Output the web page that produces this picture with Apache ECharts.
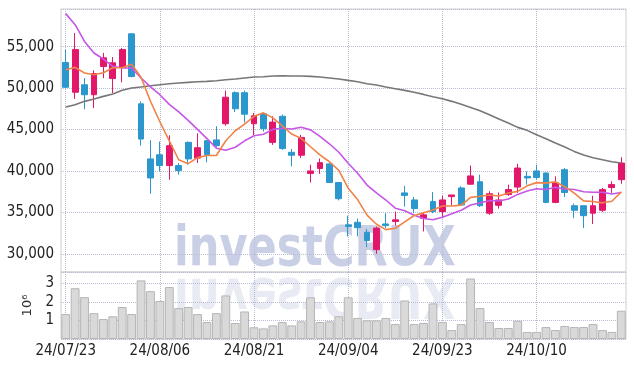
<!DOCTYPE html>
<html>
<head>
<meta charset="utf-8">
<script src="https://cdn.jsdelivr.net/npm/echarts@6/dist/echarts.min.js"></script>
<style>
html,body{margin:0;padding:0;background:#fff;}
#c{width:634px;height:366px;}
</style>
</head>
<body>
<div id="c"></div>
<script>
const dates = ['24/07/23','24/07/24','24/07/25','24/07/26','24/07/29','24/07/30','24/07/31','24/08/01','24/08/02','24/08/05',
'24/08/06','24/08/07','24/08/08','24/08/09','24/08/12','24/08/13','24/08/14','24/08/16','24/08/19','24/08/20',
'24/08/21','24/08/22','24/08/23','24/08/26','24/08/27','24/08/28','24/08/29','24/08/30','24/09/02','24/09/03',
'24/09/04','24/09/05','24/09/06','24/09/09','24/09/10','24/09/11','24/09/12','24/09/13','24/09/19','24/09/20',
'24/09/23','24/09/24','24/09/25','24/09/26','24/09/27','24/09/30','24/10/02','24/10/04','24/10/07','24/10/08',
'24/10/10','24/10/11','24/10/14','24/10/15','24/10/16','24/10/17','24/10/18','24/10/21','24/10/22','24/10/23'];

const openP = [53100,49500,50400,49200,52600,51150,52500,56550,48100,41450,
41950,40650,40650,43450,41550,43650,43750,45700,49450,49450,
45700,46900,43450,46600,42250,41900,39700,40300,40850,38600,
33500,33800,32600,30500,33600,33900,37350,36500,34300,36300,
35100,36900,37950,38400,38700,34900,35850,37150,38050,39350,
40000,39750,36200,40150,35800,35800,34900,35250,38000,38950];
const closeP = [50100,54650,49200,51750,53650,53050,54650,51400,43850,39150,
40650,43050,40050,41450,42800,41950,43050,48900,47500,46850,
46650,45100,45900,42700,41900,44050,40000,41000,38600,36650,
33300,33150,31600,33100,33400,34100,37050,35450,34700,35100,
36500,37100,35900,39400,35800,37250,36500,37750,40350,39150,
39200,36200,38550,37400,35250,34600,35800,37750,38350,40950];
const lowP = [50000,48700,47450,47600,51200,49400,50700,51300,43050,37250,
39950,38950,39550,40750,40950,41050,42900,45450,47100,45850,
44350,44750,43150,42550,40550,41550,38600,39650,38600,36450,
32100,32100,30800,30000,33100,33400,35700,34900,32700,34900,
34300,35850,35800,38350,35650,34700,35450,37000,37350,38350,
38950,36100,36100,36850,34300,33100,33600,35050,37350,38450];
const highP = [54650,56650,51200,52150,54250,53750,54850,56650,48400,43700,
43550,44300,40950,43550,44550,43750,45400,49700,49600,49700,
47000,47100,46600,46800,42650,44350,40750,41500,40950,38600,
34600,34250,33000,33300,34900,35100,38200,36850,35050,37450,
37000,37100,38150,40650,39550,37550,37400,38350,40850,39950,
40750,39800,39350,40350,36050,35800,37000,37950,38750,41650];

const ma5 = [52220,52500,51820,51620,51860,52450,52450,52890,51310,48410,
45940,43620,41350,40880,41610,41870,41870,43640,44850,45660,
46600,47010,46410,45450,44450,43930,42920,41930,41110,40060,
37920,36540,34660,33560,32920,33080,33860,34620,34940,35280,
35760,35770,35870,36810,36950,37100,36980,37340,37530,38200,
38590,38530,38690,38100,37320,36390,36310,36150,36340,37480];
const ma10 = [58990,57660,55640,54240,53510,52630,52420,52420,51220,50140,
49200,48040,47120,46100,45010,43910,42750,42500,42860,43640,
44240,44440,45020,45150,45060,45270,44960,44170,43280,42260,
40920,39730,38300,37340,36490,35500,35200,34640,34250,34100,
34420,34820,35250,35880,36120,36430,36380,36610,37170,37570,
37850,37750,38020,37810,37760,37490,37420,37420,37220,37400];
const ma60 = [47710,48000,48400,48680,49000,49280,49730,50010,50130,50290,
50410,50530,50610,50690,50770,50810,50890,51010,51100,51220,
51340,51380,51460,51500,51460,51460,51420,51340,51220,51100,
50930,50770,50530,50370,50130,49930,49730,49490,49240,48960,
48720,48400,48040,47670,47270,46790,46260,45780,45260,44900,
44370,43890,43370,42880,42360,41920,41590,41350,41110,40950];

const volume = [1340000,2730000,2250000,1390000,1070000,1220000,1720000,1340000,3150000,2570000,
2040000,2790000,1660000,1720000,1340000,910000,1390000,2340000,860000,1480000,
630000,570000,730000,910000,730000,950000,2240000,910000,950000,1220000,
2240000,1130000,1000000,1000000,1130000,800000,2070000,800000,860000,1910000,
910000,480000,800000,3250000,1660000,910000,590000,590000,980000,380000,
380000,640000,480000,700000,640000,640000,800000,480000,380000,1520000];

const candleData = dates.map((d, i) => [openP[i], closeP[i], lowP[i], highP[i]]);

const FONT = '"Liberation Sans Narrow", "DejaVu Sans Condensed", "Liberation Sans", sans-serif';
const gridDot = { type: 'dotted', color: '#b9bdd3', width: 1 };
const UP = '#e3176a', DOWN = '#2c97cc';

const chart = echarts.init(document.getElementById('c'), null, { renderer: 'canvas' });
chart.setOption({
  animation: false,
  backgroundColor: '#fff',
  grid: [
    { left: 61, right: 8, top: 9, height: 263, show: true, borderColor: '#cfcfcf', borderWidth: 1 },
    { left: 61, right: 8, top: 272, height: 67, show: true, borderColor: '#cfcfcf', borderWidth: 1 }
  ],
  graphic: [
    { type: 'text', x: 174, y: 251, z: -10, scaleX: 0.87,
      style: { text: 'investCRUX', font: 'bold 55px ' + FONT, fill: '#c9cfe5', verticalAlign: 'middle', align: 'left' } },
    { type: 'text', x: 174, y: 293, z: -10, scaleX: 0.87, scaleY: -1,
      style: { text: 'investCRUX', font: 'bold 55px ' + FONT, fill: '#c9cfe5', opacity: 0.42, verticalAlign: 'middle', align: 'left' } }
  ],
  xAxis: [
    { type: 'category', gridIndex: 0, data: dates, boundaryGap: true,
      axisLine: { show: false }, axisTick: { show: false }, axisLabel: { show: false },
      splitLine: { show: true, interval: 9, alignWithLabel: true, lineStyle: gridDot } },
    { type: 'category', gridIndex: 1, data: dates, boundaryGap: true,
      axisLine: { show: false }, axisTick: { show: false, interval: 9, alignWithLabel: true },
      axisLabel: { show: true, interval: 9, fontFamily: FONT, fontSize: 15, color: '#222', margin: 5 },
      splitLine: { show: true, interval: 9, alignWithLabel: true, lineStyle: gridDot } }
  ],
  yAxis: [
    { type: 'value', gridIndex: 0, min: 27800, max: 59550, scale: true,
      axisLine: { show: false }, axisTick: { show: false },
      axisLabel: { fontFamily: FONT, fontSize: 15, color: '#222', margin: 7, showMinLabel: false, showMaxLabel: false },
      splitLine: { show: true, lineStyle: gridDot } },
    { type: 'value', gridIndex: 1, min: 0, max: 3600000, interval: 1000000,
      axisLine: { show: false }, axisTick: { show: false },
      name: '10\u2076', nameLocation: 'middle', nameRotate: 90, nameGap: 22,
      nameTextStyle: { fontFamily: '"DejaVu Sans", sans-serif', fontSize: 13, color: '#333' },
      axisLabel: { fontFamily: FONT, fontSize: 15, color: '#222', margin: 7, showMinLabel: false, showMaxLabel: false,
        formatter: v => String(Math.round(v / 1e6)) },
      splitLine: { show: true, lineStyle: gridDot } }
  ],
  series: [
    { type: 'candlestick', xAxisIndex: 0, yAxisIndex: 0, data: candleData, barWidth: '68%',
      itemStyle: { color: UP, color0: DOWN, borderColor: UP, borderColor0: DOWN, borderWidth: 1 } },
    { type: 'line', xAxisIndex: 0, yAxisIndex: 0, data: ma60, symbol: 'none', smooth: false,
      lineStyle: { color: '#777777', width: 1.6 } },
    { type: 'line', xAxisIndex: 0, yAxisIndex: 0, data: ma10, symbol: 'none', smooth: false,
      lineStyle: { color: '#c655e8', width: 1.6 } },
    { type: 'line', xAxisIndex: 0, yAxisIndex: 0, data: ma5, symbol: 'none', smooth: false,
      lineStyle: { color: '#ef8347', width: 1.6 } },
    { type: 'bar', xAxisIndex: 1, yAxisIndex: 1, data: volume, barCategoryGap: '6%',
      itemStyle: { color: '#d9d9d9', borderColor: '#b5b5b5', borderWidth: 1 } }
  ]
});
</script>
</body>
</html>
